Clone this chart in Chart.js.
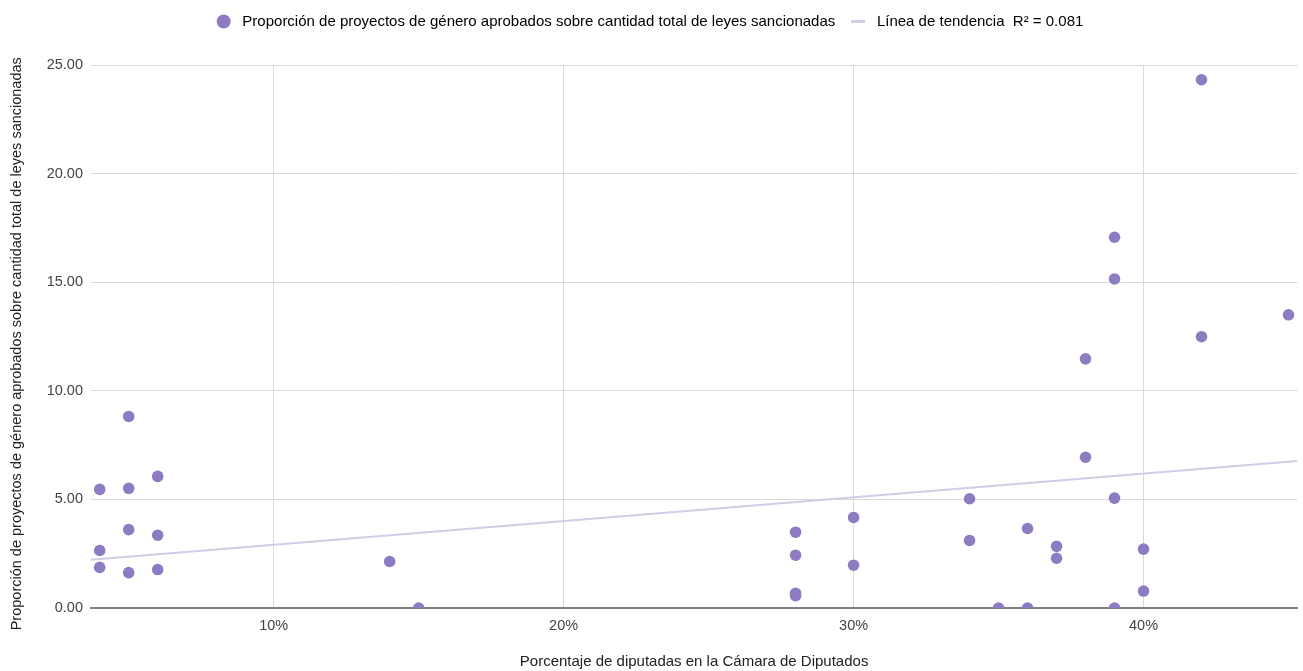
<!DOCTYPE html>
<html lang="es">
<head>
    <meta charset="UTF-8">
    <title>Proporción de proyectos de género aprobados</title>
    <script src="https://cdn.jsdelivr.net/npm/chart.js"></script>
    <style>
        body {
            margin: 0;
            padding: 0;
            background-color: #fff;
        }

        .chart-box {
            position: relative;
            width: 1303px;
            height: 671px;
        }
    </style>
</head>
<body>
    <div class="chart-box">
        <canvas id="scatterChart"></canvas>
    </div>

    <script>
        // porcentaje de diputadas (eje x) y proporcion de proyectos de genero (eje y)
        const xPct = [4, 4, 4, 5, 5, 5, 5, 6, 6, 6, 14, 15, 28, 28, 28, 28, 30, 30, 34, 34, 35, 36, 36,
            37, 37, 38, 38, 39, 39, 39, 39, 40, 40, 42, 42, 45];
        const yRatio = [5.46, 2.65, 1.87, 8.82, 5.51, 3.61, 1.63, 6.06, 3.35, 1.77, 2.14, 0, 3.49, 2.43, 0.68, 0.57,
            4.17, 1.97, 5.03, 3.11, 0, 3.66, 0, 2.84, 2.29, 11.47, 6.94, 17.07, 15.15, 5.06, 0, 2.71, 0.78,
            24.32, 12.49, 13.5];

        // linea de tendencia, extremos
        const trendX = [3.7, 45.3];
        const trendY = [2.22, 6.77];

        const xTicks = [10, 20, 30, 40];
        const yTicks = [0, 5, 10, 15, 20, 25];

        const seriesLabel = 'Proporción de proyectos de género aprobados sobre cantidad total de leyes sancionadas';
        const trendLabel = 'Línea de tendencia  R² = 0.081';
        const xTitle = 'Porcentaje de diputadas en la Cámara de Diputados';
        const yTitle = 'Proporción de proyectos de género aprobados sobre cantidad total de leyes sancionadas';

        const purple = '#8e7cc3';
        const trendColor = '#d3cce9';
        const gridColor = '#d9d9d9';
        const font = '"Liberation Sans", Arial, sans-serif';

        const points = xPct.map((x, i) => ({ x: x, y: yRatio[i] }));
        const trendPoints = trendX.map((x, i) => ({ x: x, y: trendY[i] }));

        const ctx = document.getElementById('scatterChart').getContext('2d');
        new Chart(ctx, {
            type: 'scatter',
            data: {
                datasets: [{
                    label: seriesLabel,
                    data: points,
                    xAxisID: 'x',
                    yAxisID: 'y',
                    backgroundColor: purple,
                    borderColor: purple,
                    borderWidth: 0,
                    pointRadius: 5.8,
                    pointHoverRadius: 5.8,
                    clip: 0
                }, {
                    type: 'line',
                    label: trendLabel,
                    data: trendPoints,
                    xAxisID: 'x',
                    yAxisID: 'y',
                    borderColor: trendColor,
                    borderWidth: 2,
                    pointRadius: 0,
                    fill: false
                }]
            },
            options: {
                responsive: true,
                maintainAspectRatio: false,
                animation: false,
                layout: {
                    padding: { top: -2, right: 3, bottom: 0, left: 0 }
                },
                plugins: {
                    tooltip: { enabled: false },
                    legend: {
                        position: 'top',
                        labels: {
                            usePointStyle: true,
                            boxHeight: 10,
                            pointStyleWidth: 14,
                            padding: 16,
                            color: '#222',
                            font: { family: font, size: 15 },
                            // un espacio delante del texto para separarlo del simbolo
                            generateLabels: () => [{
                                text: ' ' + seriesLabel,
                                fillStyle: purple,
                                strokeStyle: purple,
                                lineWidth: 0,
                                pointStyle: 'circle',
                                datasetIndex: 0,
                                hidden: false
                            }, {
                                text: ' ' + trendLabel,
                                fillStyle: trendColor,
                                strokeStyle: trendColor,
                                lineWidth: 3,
                                pointStyle: 'line',
                                datasetIndex: 1,
                                hidden: false
                            }]
                        }
                    }
                },
                scales: {
                    // eje vacio arriba, solo para dejar espacio bajo la leyenda
                    xTop: {
                        type: 'linear',
                        position: 'top',
                        display: true,
                        grid: { display: false, drawTicks: false },
                        border: { display: false },
                        ticks: { display: false },
                        afterFit: (scale) => { scale.height = 26; }
                    },
                    x: {
                        type: 'linear',
                        position: 'bottom',
                        min: 3.7,
                        max: 45.3,
                        afterBuildTicks: (scale) => {
                            scale.ticks = xTicks.map(v => ({ value: v }));
                        },
                        afterFit: (scale) => { scale.height = 63; },
                        grid: { color: gridColor, drawTicks: false },
                        border: { color: '#808080', width: 2 },
                        ticks: {
                            padding: 9,
                            color: '#444',
                            font: { family: font, size: 14.5 },
                            callback: v => v + '%'
                        },
                        title: {
                            display: true,
                            text: xTitle,
                            color: '#222',
                            font: { family: font, size: 15 },
                            padding: { top: 0, bottom: 0 }
                        }
                    },
                    y: {
                        type: 'linear',
                        min: 0,
                        max: 25,
                        afterBuildTicks: (scale) => {
                            scale.ticks = yTicks.map(v => ({ value: v }));
                        },
                        afterFit: (scale) => { scale.width = 91; },
                        grid: { color: gridColor, drawTicks: false },
                        border: { display: false },
                        ticks: {
                            padding: 8,
                            color: '#444',
                            font: { family: font, size: 14.5 },
                            callback: v => v.toFixed(2)
                        },
                        title: {
                            display: true,
                            // espacio final para bajar un poco el titulo, como en el original
                            text: yTitle + '\u2003',
                            color: '#222',
                            font: { family: font, size: 14.5 },
                            padding: { top: 8, bottom: 0 }
                        }
                    }
                }
            }
        });
    </script>
</body>
</html>
